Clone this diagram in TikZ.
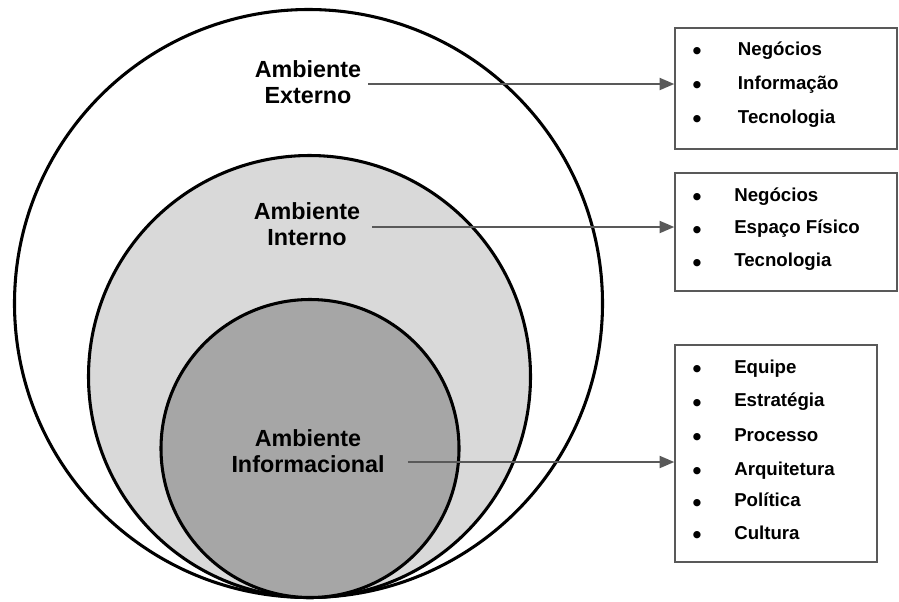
\documentclass[tikz,border=0pt]{standalone}
\usepackage{fontspec}
\setmainfont{Liberation Sans}
\usetikzlibrary{arrows.meta}

\definecolor{ringmid}{HTML}{D9D9D9}
\definecolor{ringin}{HTML}{A6A6A6}
\definecolor{linegray}{HTML}{595959}

\tikzset{
  ring/.style={circle, draw=black, line width=2.3pt, inner sep=0pt},
  lbl/.style={font=\fontsize{17.5}{19.5}\selectfont\bfseries, align=center, inner sep=0pt},
  listbox/.style={draw=linegray, line width=1.1pt, fill=white, inner sep=0pt},
  arr/.style={draw=linegray, line width=1.5pt, -{Triangle[length=11pt,width=9pt]}},
  item/.style={font=\fontsize{14}{16}\selectfont\bfseries, anchor=base west, inner sep=0pt},
  dot/.style={font=\fontsize{19}{20}\selectfont\bfseries, anchor=center, inner sep=0pt}
}

\begin{document}
\begin{tikzpicture}[x=0.75pt,y=0.75pt,yscale=-1,xscale=1]
        \useasboundingbox (0,0) rectangle (899,601);

        % the three environments
        \node[ring, fill=white,   minimum size=441pt]   (extRing) at (308.5,303.5) {};
        \node[ring, fill=ringmid, minimum size=331.5pt] (intRing) at (309.5,376.5) {};
        \node[ring, fill=ringin,  minimum size=223.5pt] (infRing) at (310,448.5) {};

        \node[lbl] (lblExt) at (308,82)  {Ambiente\\Externo};
        \node[lbl] (lblInt) at (307,224) {Ambiente\\Interno};
        \node[lbl] (lblInf) at (308,451) {Ambiente\\Informacional};

        % lists
        \node[listbox, minimum width=166.5pt, minimum height=90.75pt]  (boxExt) at (786,88.5) {};
        \node[listbox, minimum width=166.5pt, minimum height=88.5pt]   (boxInt) at (786,232) {};
        \node[listbox, minimum width=151.5pt, minimum height=162.75pt] (boxInf) at (776,453.5) {};

        \foreach \txt/\yb [count=\i] in {Negócios/55, Informação/89.5, Tecnologia/123}{
            \node[dot]  (extDot\i)  at (697,\yb-1.5) {\textbullet};
            \node[item] (extItem\i) at (737.7,\yb) {\txt};
        }
        \foreach \txt/\yb [count=\i] in {Negócios/201, Espaço Físico/233.5, Tecnologia/266.7}{
            \node[dot]  (intDot\i)  at (697,\yb-1.5) {\textbullet};
            \node[item] (intItem\i) at (734,\yb) {\txt};
        }
        \foreach \txt/\yb [count=\i] in {Equipe/373.3, Estratégia/406.7, Processo/441, Arquitetura/475, Política/506.7, Cultura/539}{
            \node[dot]  (infDot\i)  at (697,\yb-1.5) {\textbullet};
            \node[item] (infItem\i) at (734,\yb) {\txt};
        }

        % arrows
        \path (lblExt.east) ++(7,2)   coordinate (extOut);
        \path (lblInt.east) ++(12,3)  coordinate (intOut);
        \path (lblInf.east) ++(23,11) coordinate (infOut);
        \draw[arr] (extOut) -- (extOut -| boxExt.west);
        \draw[arr] (intOut) -- (intOut -| boxInt.west);
        \draw[arr] (infOut) -- (infOut -| boxInf.west);
    \end{tikzpicture}
\end{document}
